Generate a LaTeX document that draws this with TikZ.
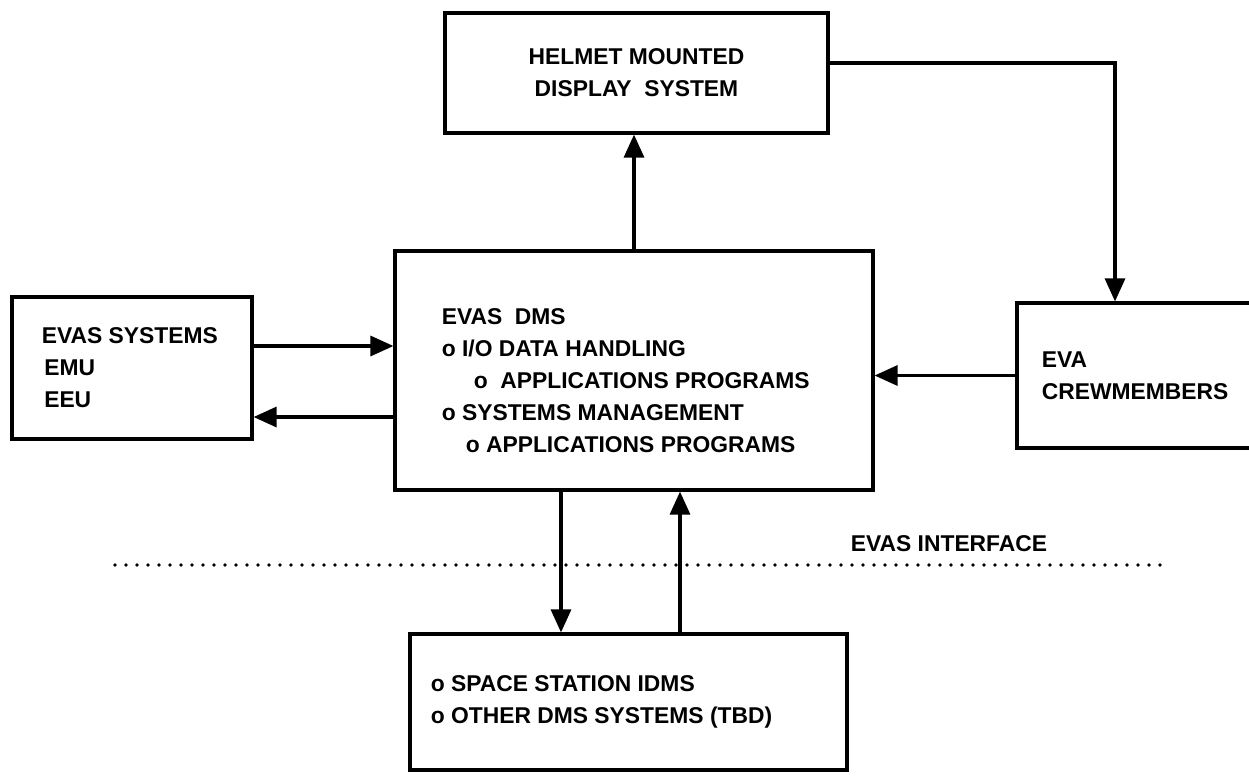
\documentclass[tikz,border=0pt]{standalone}
\usepackage{fontspec}
\setmainfont{Liberation Sans}
\usetikzlibrary{arrows.meta,calc}

\begin{document}
\begin{tikzpicture}[
  box/.style={draw, line width=1.8pt, inner sep=0pt},
  txt/.style={font=\bfseries\fontsize{13}{18.2}\selectfont, align=left, inner sep=0pt, anchor=west},
  arr/.style={-{Triangle[length=0.46cm, width=0.4cm]}, line width=1.8pt},
  dotline/.style={line width=2.2pt, line cap=round, dash pattern=on 0pt off 0.22cm}]
  \useasboundingbox (0,0) rectangle (24.98,-15.52);

  % boxes
  \node[box, minimum width=7.66cm, minimum height=2.40cm, align=center,
        font=\bfseries\fontsize{13}{18.2}\selectfont] (hmd) at (12.73,-1.46) {HELMET MOUNTED\\DISPLAY\ \ SYSTEM};
  \node[box, minimum width=9.56cm, minimum height=4.78cm] (dms) at (12.68,-7.41) {};
  \node[box, minimum width=4.80cm, minimum height=2.84cm] (evas) at (2.64,-7.36) {};
  \node[box, minimum width=4.76cm, minimum height=2.90cm] (crew) at (22.72,-7.51) {};
  \node[box, minimum width=8.74cm, minimum height=2.72cm] (idms) at (12.57,-14.04) {};

  % texts in the boxes
  \node[txt] (dmstxt) at ([xshift=0.96cm, yshift=-0.21cm]dms.west) {EVAS\ \ DMS\\o I/O DATA HANDLING\\\hspace*{0.64cm}o\ \ APPLICATIONS PROGRAMS\\o SYSTEMS MANAGEMENT\\\hspace*{0.48cm}o APPLICATIONS PROGRAMS};
  \node[txt] (evastxt) at ([xshift=0.62cm]evas.west) {EVAS SYSTEMS\\\hspace*{0.05cm}EMU\\\hspace*{0.05cm}EEU};
  \node[txt] (crewtxt) at ([xshift=0.52cm]crew.west) {EVA\\CREWMEMBERS};
  \node[txt] (idmstxt) at ([xshift=0.44cm]idms.west) {o SPACE STATION IDMS\\o OTHER DMS SYSTEMS (TBD)};

  % interface line
  \coordinate (ifl) at (2.3,-11.3);
  \coordinate (ifr) at (23.3,-11.3);
  \draw[dotline] (ifl) -- (ifr);
  \node[txt, anchor=center] (iflabel) at (18.98,-10.87) {EVAS INTERFACE};

  % connectors
  \draw[arr] (dms.north) -- (dms.north |- hmd.south);
  \draw[arr] ([yshift=0.2cm]hmd.east) -| ([xshift=-0.42cm]crew.north);
  \draw[arr] (crew.west) -- (crew.west -| dms.east);
  \draw[arr] ([yshift=0.44cm]evas.east) -- ([yshift=0.44cm]evas.east -| dms.west);
  \draw[arr] ([yshift=-0.98cm]evas.east -| dms.west) -- ([yshift=-0.98cm]evas.east);
  \draw[arr] ([xshift=-1.46cm]dms.south) -- ([xshift=-1.46cm]dms.south |- idms.north);
  \draw[arr] ([xshift=0.92cm]dms.south |- idms.north) -- ([xshift=0.92cm]dms.south);
\end{tikzpicture}
\end{document}
